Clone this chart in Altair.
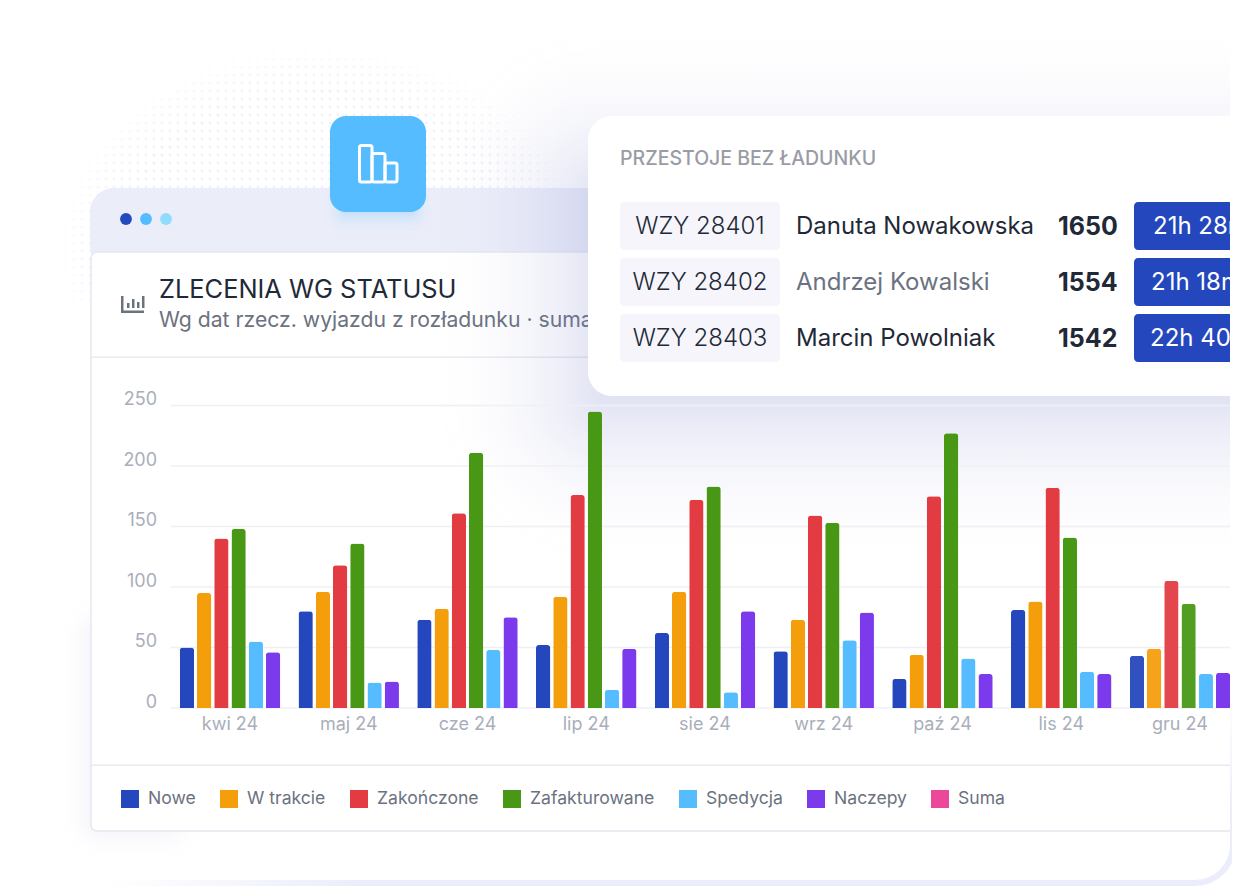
import altair as alt
import pandas as pd

alt.data_transformers.disable_max_rows()

months = ['kwi 24', 'maj 24', 'cze 24', 'lip 24', 'sie 24', 'wrz 24', 'paź 24', 'lis 24', 'gru 24']
series = ['Nowe', 'W trakcie', 'Zakończone', 'Zafakturowane', 'Spedycja', 'Naczepy']
legend_names = series + ['Suma']
legend_colors = ['#2547bd', '#f59e0b', '#e23b41', '#489816', '#54bcff', '#7c3aed', '#ec4899']
y_ticks = [0, 50, 100, 150, 200, 250]

nowe = [50, 80, 73, 52, 62, 47, 24, 81, 43]
w_trakcie = [95, 96, 82, 92, 96, 73, 44, 88, 49]
zakonczone = [140, 118, 161, 176, 172, 159, 175, 182, 105]
zafakturowane = [148, 136, 211, 245, 183, 153, 227, 141, 86]
spedycja = [55, 21, 48, 15, 13, 56, 41, 30, 28]
naczepy = [46, 22, 75, 49, 80, 79, 28, 28, 29]

rows_id = ['WZY 28401', 'WZY 28402', 'WZY 28403']
rows_name = ['Danuta Nowakowska', 'Andrzej Kowalski', 'Marcin Powolniak']
rows_count = ['1650', '1554', '1542']
rows_time = ['21h 28m', '21h 18m', '22h 40m']

FONT = 'Inter'
# plot origin on the page, everything decorative is placed relative to it
OX = 170.6
OY = 405.5
BAND_W = 1068.75  # x scale runs slightly past the canvas, the page only gives 1224px
PLOT_W = 1224 - (OX - 8)
PLOT_H = 302.5

one = pd.DataFrame({'a': [0]})


def box(x0, y0, x1, y1, **style):
    return alt.Chart(one).mark_rect(**style).encode(
        x=alt.value(x0 - OX), x2=alt.value(x1 - OX),
        y=alt.value(y0 - OY), y2=alt.value(y1 - OY)
    )


def label(x, y, text, size, color, weight=400, align='left', **style):
    return alt.Chart(one).mark_text(
        text=text, font=FONT, fontSize=size, color=color, fontWeight=weight,
        align=align, baseline='middle', **style
    ).encode(x=alt.value(x - OX), y=alt.value(y - OY))


def fade_stops(rgb, peak):
    return [
        alt.GradientStop(color=f'rgba({rgb},{peak * (1 - t) ** 2:.4f})', offset=t)
        for t in (0, 0.2, 0.4, 0.6, 0.8, 1)
    ]


def shadow(x0, y0, x1, y1, spread, rgb, peak):
    # nine-slice soft shadow made of gradient rects
    stops = fade_stops(rgb, peak)

    def edge(ax, ay, bx, by):
        return alt.LinearGradient(gradient='linear', x1=ax, y1=ay, x2=bx, y2=by, stops=stops)

    def corner(cx, cy):
        return alt.RadialGradient(gradient='radial', x1=cx, y1=cy, r1=0, x2=cx, y2=cy, r2=1, stops=stops)

    xl, xr, yt, yb = x0 - spread, x1 + spread, y0 - spread, y1 + spread
    return [
        box(x0, y0, x1, y1, fill=f'rgba({rgb},{peak})'),
        box(xl, y0, x0, y1, fill=edge(1, 0, 0, 0)),
        box(x1, y0, xr, y1, fill=edge(0, 0, 1, 0)),
        box(x0, yt, x1, y0, fill=edge(0, 1, 0, 0)),
        box(x0, y1, x1, yb, fill=edge(0, 0, 0, 1)),
        box(xl, yt, x0, y0, fill=corner(1, 1)),
        box(x1, yt, xr, y0, fill=corner(0, 1)),
        box(xl, y1, x0, yb, fill=corner(1, 0)),
        box(x1, y1, xr, yb, fill=corner(0, 0)),
    ]


def dot_texture():
    cells = []
    for gx in range(50, 610, 8):
        for gy in range(35, 300, 8):
            d = ((gx - 320) / 270) ** 2 + ((gy - 250) / 210) ** 2
            if d < 1:
                cells.append({'x': gx - OX, 'y': gy - OY, 'a': min(1, (1 - d) * 2.2)})
    return alt.Chart(pd.DataFrame(cells)).mark_square(size=6, color='#edeff9').encode(
        x=alt.X('x:Q', scale=None, axis=None),
        y=alt.Y('y:Q', scale=None, axis=None),
        opacity=alt.Opacity('a:Q', scale=None, legend=None)
    )


def stroke_box(x0, y0, x1, y1):
    return box(x0, y0, x1, y1, fillOpacity=0, stroke='white', strokeWidth=3, cornerRadius=2)


bars_data = pd.DataFrame({
    'month': [m for m in months for _ in series],
    'series': series * len(months),
    'value': [
        v for row in zip(nowe, w_trakcie, zakonczone, zafakturowane, spedycja, naczepy)
        for v in row
    ],
})

y_scale = alt.Scale(domain=[0, 250], nice=False)
y_axis = alt.Axis(
    values=y_ticks, labelFont=FONT, labelFontSize=18, labelColor='#a9aeba',
    labelPadding=14, labelOffset=-6, ticks=False, domain=False, grid=False, zindex=1
)

grid = alt.Chart(pd.DataFrame({'v': y_ticks})).mark_rule(color='#eff0f6', strokeWidth=1.5).encode(
    y=alt.Y('v:Q', scale=y_scale, axis=y_axis, title=None),
    x=alt.value(0), x2=alt.value(PLOT_W)
)

bars = alt.Chart(bars_data).mark_bar(cornerRadiusTopLeft=3, cornerRadiusTopRight=3).encode(
    x=alt.X(
        'month:N', sort=months, title=None,
        scale=alt.Scale(paddingInner=0.154, paddingOuter=0.077, range=[0, BAND_W]),
        axis=alt.Axis(
            labelFont=FONT, labelFontSize=18, labelColor='#a9aeba', labelAngle=0,
            labelPadding=7, ticks=False, domain=False, grid=False, zindex=1
        )
    ),
    xOffset=alt.XOffset('series:N', sort=series, scale=alt.Scale(paddingInner=0.17)),
    y=alt.Y('value:Q', scale=y_scale, title=None, axis=y_axis),
    color=alt.Color(
        'series:N', title=None,
        scale=alt.Scale(domain=legend_names, range=legend_colors),
        legend=alt.Legend(
            orient='none', legendX=121 - OX, legendY=790 - OY, direction='horizontal',
            columns=7, symbolType='square', symbolSize=324, symbolStrokeWidth=0,
            symbolOpacity=1, labelFont=FONT, labelFontSize=17.6, labelColor='#6b7280',
            labelOffset=9, columnPadding=24, padding=0, zindex=1
        )
    )
)

layers = [
    dot_texture(),
    *shadow(106, 640, 160, 815, 50, '111,120,196', 0.13),
    box(90, 188, 1300, 270, fill='#ebedf9', cornerRadius=24),
    box(91, 252, 1300, 831, fill='white', stroke='#e6e7ef', strokeWidth=1.5, cornerRadius=6),
    box(91, 356.5, 1240, 358, fill='#e8eaf1'),
    box(91, 764.5, 1240, 766, fill='#e8eaf1'),
    # traffic lights
    *[
        alt.Chart(one).mark_circle(size=140, color=c, opacity=1).encode(
            x=alt.value(cx - OX), y=alt.value(219 - OY)
        )
        for cx, c in [(126, '#254ac0'), (146, '#54bcff'), (166, '#90dcff')]
    ],
    # small chart glyph
    box(121, 296, 123.5, 313, fill='#6b7280'),
    box(121, 310.5, 144, 313, fill='#6b7280'),
    box(127, 303, 129.5, 308, fill='#6b7280'),
    box(132, 299, 134.5, 308, fill='#6b7280'),
    box(137, 302, 139.5, 308, fill='#6b7280'),
    box(142, 296, 144.5, 308, fill='#6b7280'),
    label(159, 290, 'ZLECENIA WG STATUSU', 25.4, '#1f2937', 400),
    label(159, 321, 'Wg dat rzecz. wyjazdu z rozładunku · suma', 21.2, '#6b7280'),
    # blue tile
    *shadow(345, 160, 411, 212, 24, '84,188,255', 0.24),
    box(330, 116, 426, 212, fill='#54bcff', cornerRadius=16),
    stroke_box(359.5, 145.5, 372, 182),
    stroke_box(372, 153.5, 385, 182),
    stroke_box(385, 163, 397, 182),
    # pop-up card shadow goes under the chart marks
    *shadow(598, 190, 1300, 400, 165, '111,120,196', 0.2),
    grid,
    bars,
    box(1130, 570, 1200, 708, fill='white', opacity=0.06),
    # pop-up card
    box(588, 116, 1300, 396, fill='white', cornerRadius=24),
    label(620, 158.5, 'PRZESTOJE BEZ ŁADUNKU', 19.5, '#9a9ca5', 500),
]

for i in range(3):
    top = 202 + 56 * i
    mid = top + 24
    name_color = '#6b7280' if i == 1 else '#1f2937'
    layers += [
        box(620, top, 780, top + 48, fill='#f5f5fb', cornerRadius=4),
        label(700, mid + 1, rows_id[i], 24, '#1f2937', 300, align='center'),
        label(796, mid + 1, rows_name[i], 24, name_color),
        label(1058, mid + 1, rows_count[i], 25, '#1f2937', 700),
        box(1134, top, 1300, top + 48, fill='#2547bd', cornerRadius=4),
        label(1153 - (3 * (i == 2)) - (2 * (i == 1)), mid + 1, rows_time[i], 24, 'white'),
    ]

# frame round the whole picture: cuts off the cards on the right, fades upward and leftward
layers += [
    box(-60, -60, 1233, 883, fillOpacity=0, strokeWidth=6, cornerRadius=38, stroke=alt.LinearGradient(
        gradient='linear', x1=0, y1=0, x2=0, y2=1,
        stops=[
            alt.GradientStop(color='#ffffff', offset=0.8),
            alt.GradientStop(color='#ebeefa', offset=0.92),
        ]
    )),
    box(0, 876, 360, 886, fill=alt.LinearGradient(
        gradient='linear', x1=0, y1=0, x2=1, y2=0,
        stops=[
            alt.GradientStop(color='#ffffff', offset=0.3),
            alt.GradientStop(color='rgba(255,255,255,0)', offset=1),
        ]
    )),
]

chart = alt.layer(*layers).properties(
    width=PLOT_W, height=PLOT_H,
    autosize=alt.AutoSizeParams(type='none'),
    padding={'left': OX - 8, 'top': OY - 8, 'right': 0, 'bottom': 178},
    background='white'
).configure_view(stroke=None)

chart.save("out.html", embed_options={"renderer": "svg", "actions": False})
